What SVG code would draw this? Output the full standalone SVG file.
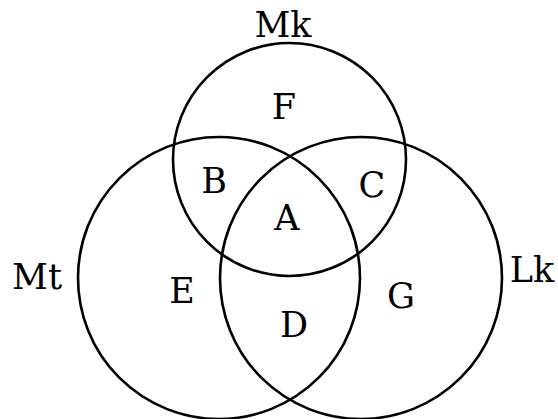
<svg xmlns="http://www.w3.org/2000/svg" width="558" height="419" viewBox="0 0 558 419">
<style>
.c{fill:none;stroke:#000;stroke-width:2.6}
.t{font-family:"DejaVu Serif","Liberation Serif",serif;font-size:35px;fill:#000;text-anchor:middle}
</style>
<rect width="558" height="419" fill="#fff"/>
<g id="Mk">
<circle class="c" cx="289.5" cy="159.5" r="116.5"/>
<text class="t" x="283" y="37">Mk</text>
</g>
<g id="Mt">
<circle class="c" cx="219" cy="278" r="141"/>
<text class="t" x="37" y="289">Mt</text>
</g>
<g id="Lk">
<circle class="c" cx="361" cy="278" r="141"/>
<text class="t" x="532" y="282">Lk</text>
</g>
<g id="regions">
<text class="t" x="284" y="119">F</text>
<text class="t" x="214" y="193">B</text>
<text class="t" x="372" y="197">C</text>
<text class="t" x="287" y="230">A</text>
<text class="t" x="182" y="303">E</text>
<text class="t" x="294" y="337">D</text>
<text class="t" x="401" y="308">G</text>
</g>
</svg>
